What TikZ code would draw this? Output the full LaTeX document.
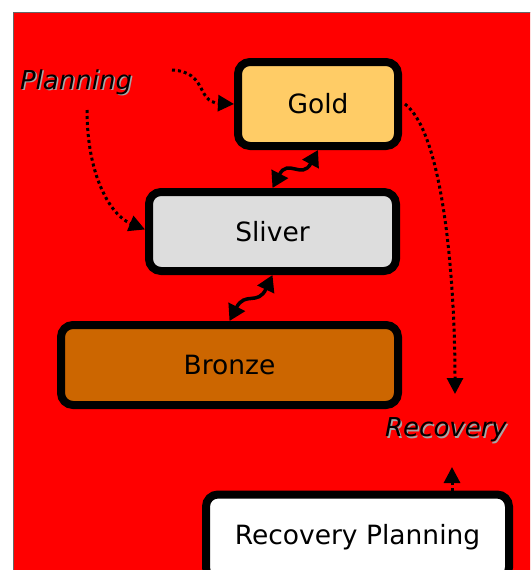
\documentclass[tikz,border=0pt]{standalone}
\usepackage{fontspec}
\setmainfont{DejaVu Sans}
\usetikzlibrary{arrows.meta,calc}
\tikzset{
  box/.style={draw=black, line width=8pt, rounded corners=12pt, inner sep=0pt, font=\fontsize{26.5}{30}\selectfont},
  lab/.style={inner sep=0pt, font=\fontsize{26}{30}\selectfont\itshape, text=black},
  labshadow/.style={lab, text=black!35},
  dotarrow/.style={line width=3pt, dash pattern=on 3pt off 3pt, -{Triangle[length=16pt,width=16pt]}},
  wavearrow/.style={line width=3.5pt, {Triangle[length=16pt,width=18pt]}-{Triangle[length=16pt,width=18pt]}}
}
\begin{document}
\begin{tikzpicture}[x=1pt,y=-1pt]
\useasboundingbox (0,0) rectangle (530,570);
\clip (0,0) rectangle (530,570);
\fill[red] (13,12) rectangle (540,580);
\draw[black!60, line width=1pt] (13,580) -- (13,12) -- (540,12);

\node[box, fill={rgb,255:red,255;green,204;blue,102}, minimum width=160pt, minimum height=84pt] (gold) at (318,104) {Gold};
\node[box, fill={rgb,255:red,221;green,221;blue,221}, minimum width=247pt, minimum height=79pt] (sliver) at (272.5,231.5) {Sliver};
\node[box, fill={rgb,255:red,204;green,102;blue,0}, minimum width=337pt, minimum height=80pt] (bronze) at (229.5,365) {Bronze};
\node[box, fill=white, minimum width=303pt, minimum height=85pt] (recplan) at (357.5,537) {Recovery Planning};

\node[labshadow] (planningshadow) at (77.5,83.5) {Planning};
\node[lab] (planning) at (76,82) {Planning};
\node[labshadow] (recoveryshadow) at (447.5,431.5) {Recovery};
\node[lab] (recovery) at (446,430) {Recovery};

\coordinate (p1) at (172,70);
\coordinate (p2) at (87,110);
\coordinate (g1) at (405,104);
\coordinate (r1) at (455,394);
\coordinate (r2) at (452,491);
\coordinate (r3) at (452,467);

\draw[dotarrow] (p1) .. controls (208,72) and (196,102) .. (gold.west);
\draw[dotarrow] (p2) .. controls (87,175) and (110,215) .. ([yshift=2pt]sliver.west);
\draw[dotarrow] (g1) .. controls (445,135) and (455,290) .. (r1);
\draw[dotarrow] (r2) -- (r3);

\draw[wavearrow] (sliver.north) .. controls (288,158) and (302,180) .. (gold.south);
\draw[wavearrow] (bronze.north) .. controls (245,291) and (258,306) .. (sliver.south);
\end{tikzpicture}
\end{document}
